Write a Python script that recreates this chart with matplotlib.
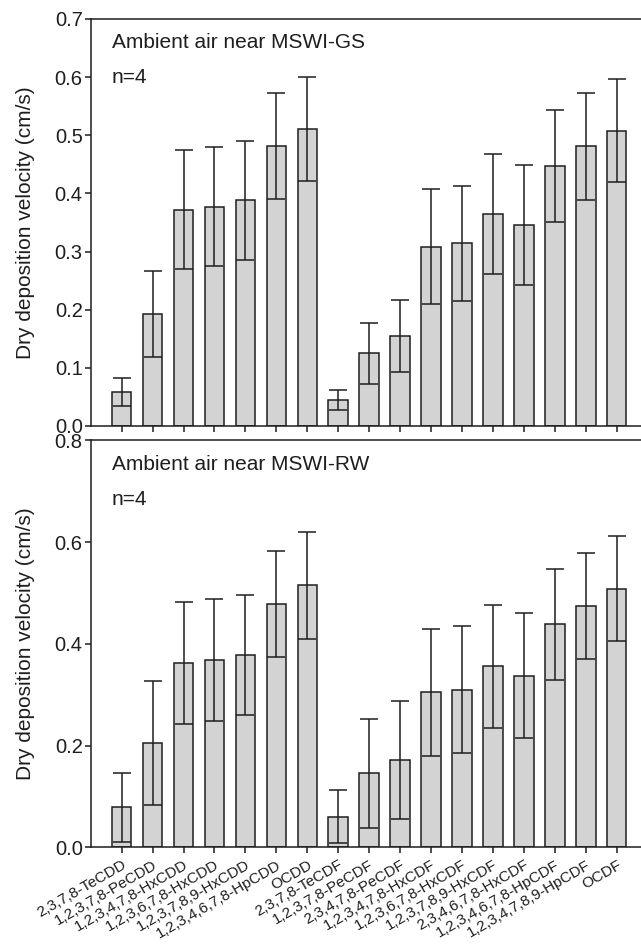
#!/usr/bin/env python3

import matplotlib
matplotlib.use('Agg')
import matplotlib.pyplot as plt
import numpy as np
from matplotlib.ticker import FormatStrFormatter

# PCDD/F congeners on the x axis.
congeners = [
    '2,3,7,8-TeCDD', '1,2,3,7,8-PeCDD', '1,2,3,4,7,8-HxCDD',
    '1,2,3,6,7,8-HxCDD', '1,2,3,7,8,9-HxCDD', '1,2,3,4,6,7,8-HpCDD', 'OCDD',
    '2,3,7,8-TeCDF', '1,2,3,7,8-PeCDF', '2,3,4,7,8-PeCDF',
    '1,2,3,4,7,8-HxCDF', '1,2,3,6,7,8-HxCDF', '1,2,3,7,8,9-HxCDF',
    '2,3,4,6,7,8-HxCDF', '1,2,3,4,6,7,8-HpCDF', '1,2,3,4,7,8,9-HpCDF', 'OCDF',
]

# Dry deposition velocity (cm/s), mean and SD, near MSWI-GS.
gs_mean = [0.059, 0.192, 0.372, 0.377, 0.388, 0.482, 0.511, 0.044, 0.125,
           0.155, 0.308, 0.314, 0.365, 0.345, 0.447, 0.481, 0.508]
gs_sd = [0.024, 0.074, 0.102, 0.102, 0.102, 0.091, 0.089, 0.017, 0.052,
         0.062, 0.099, 0.099, 0.103, 0.103, 0.096, 0.092, 0.089]

# Same, near MSWI-RW.
rw_mean = [0.079, 0.205, 0.363, 0.369, 0.379, 0.479, 0.515, 0.060, 0.146,
           0.172, 0.305, 0.310, 0.356, 0.338, 0.439, 0.475, 0.509]
rw_sd = [0.068, 0.122, 0.120, 0.120, 0.118, 0.104, 0.105, 0.052, 0.107,
         0.116, 0.125, 0.125, 0.121, 0.123, 0.109, 0.104, 0.104]

panels = [
    ("Ambient air near MSWI-GS", gs_mean, gs_sd, 0.7, 0.1),
    ("Ambient air near MSWI-RW", rw_mean, rw_sd, 0.8, 0.2),
]

INK = '#1e1e1e'


def draw_panel(ax, title, mean, sd, ymax, step):
    x = np.arange(len(mean))
    ax.bar(x, mean, width=0.63, color='#d3d3d3', edgecolor=INK,
           linewidth=1.1, zorder=2)
    ax.errorbar(x, mean, yerr=sd, fmt='none', ecolor=INK, elinewidth=1.1,
                capsize=6.7, capthick=1.1, zorder=3)

    ax.set_xlim(-0.99, len(mean) - 0.215)
    ax.set_ylim(0, ymax)
    ax.set_yticks(np.arange(0, ymax + step / 2, step))
    ax.yaxis.set_major_formatter(FormatStrFormatter('%.1f'))
    ax.set_xticks(x)
    ax.set_ylabel("Dry deposition velocity (cm/s)", fontsize=15,
                  color=INK, labelpad=14)

    # Only left, top and bottom frame lines.
    ax.spines['right'].set_visible(False)
    for side in ('left', 'top', 'bottom'):
        ax.spines[side].set_color(INK)
        ax.spines[side].set_linewidth(1.1)
    ax.tick_params(axis='y', direction='out', length=4, width=1.1,
                   labelsize=14.5, colors=INK, pad=2)
    ax.tick_params(axis='x', direction='out', length=4, width=1.1,
                   colors=INK)

    ax.text(0.038, 0.942, title, transform=ax.transAxes, fontsize=15,
            color=INK, va='center', ha='left')
    ax.text(0.038, 0.856, "n=4", transform=ax.transAxes, fontsize=15,
            color=INK, va='center', ha='left')


def main():
    plt.rcParams['font.family'] = ['Liberation Sans', 'DejaVu Sans']

    fig = plt.figure(figsize=(6.41, 9.47), dpi=100)
    ax_top = fig.add_axes([0.142, 0.5502, 0.858, 0.4298])
    ax_bot = fig.add_axes([0.142, 0.1051, 0.858, 0.4298])

    for ax, (title, mean, sd, ymax, step) in zip((ax_top, ax_bot), panels):
        draw_panel(ax, title, mean, sd, ymax, step)

    ax_top.set_xticklabels([])
    ax_bot.set_xticklabels(congeners, rotation=30, ha='right', va='top',
                           rotation_mode='anchor', fontsize=11)
    for lbl in ax_bot.get_xticklabels():
        lbl.set_color(INK)

    fig.savefig('out.png', dpi=100)


if __name__ == '__main__':
    main()
